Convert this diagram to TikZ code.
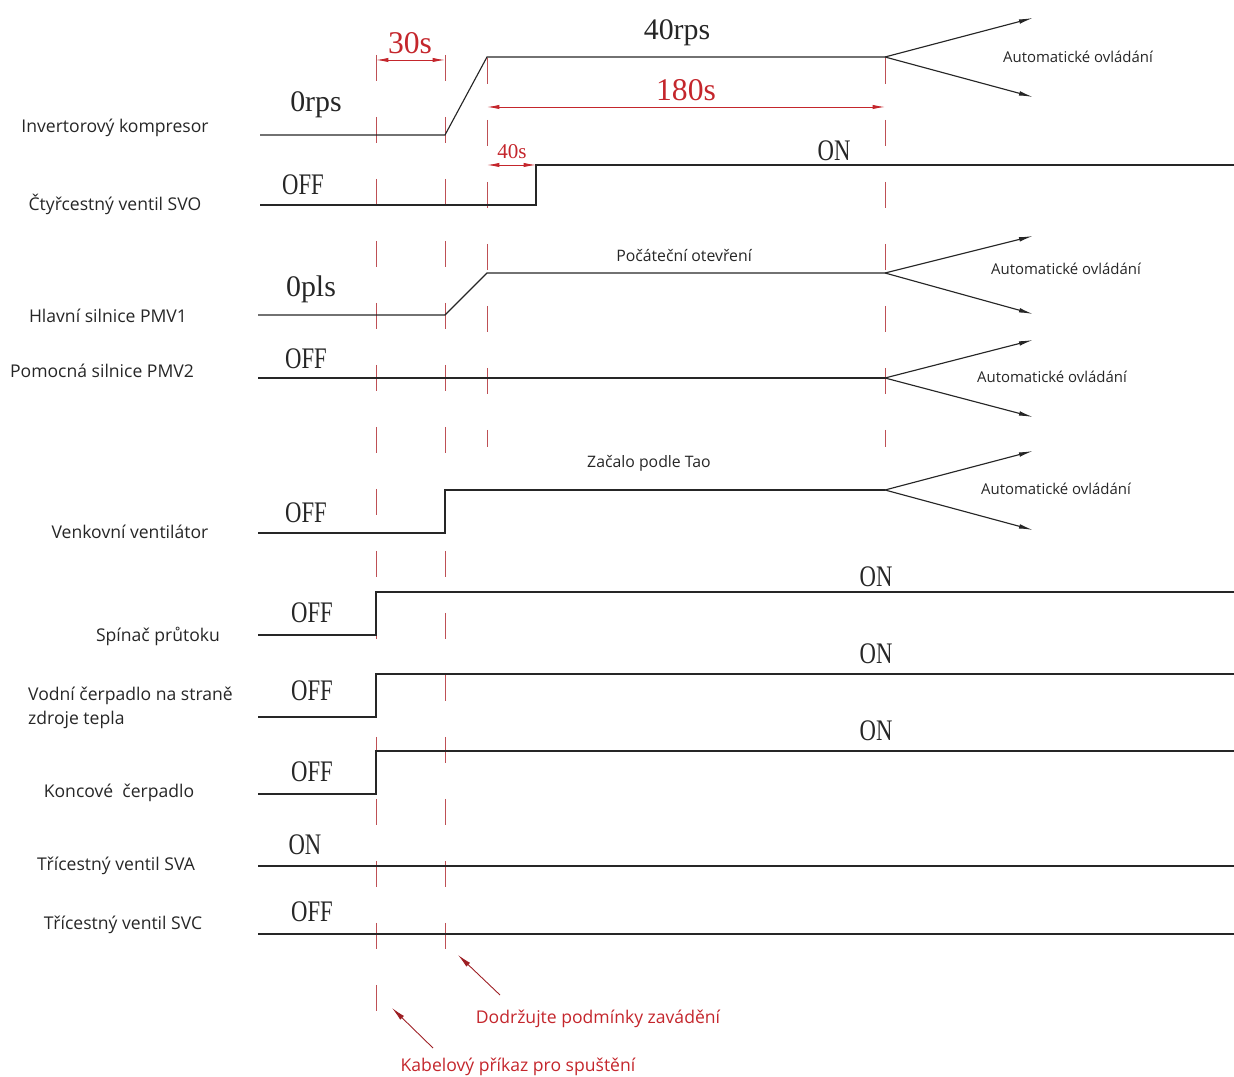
\documentclass[tikz,border=0pt]{standalone}
\usepackage{fontspec}
\setsansfont{Open Sans}
\newfontfamily\cadfont{Liberation Serif}
\newfontfamily\cadcaps[FakeStretch=0.76]{Liberation Serif}
\usetikzlibrary{arrows.meta}
\definecolor{dimred}{RGB}{196,38,44}
\definecolor{guidered}{RGB}{190,80,85}

\begin{document}
\begin{tikzpicture}[x=0.02cm, y=-0.02cm,
	sig/.style={draw=black!85, line width=0.65pt},
	guide/.style={draw=guidered, line width=0.5pt, dash pattern=on 0.52cm off 0.72cm},
	dim/.style={draw=dimred, line width=0.5pt, {Latex[length=7pt,width=2.4pt]}-{Latex[length=7pt,width=2.4pt]}},
	fan/.style={sig, -{Latex[length=8pt,width=2.6pt]}},
	lbl/.style={font=\sffamily\fontsize{10}{13.6}\selectfont, text=black!85},
	hint/.style={font=\sffamily\fontsize{9}{11}\selectfont, text=black!85},
	autotxt/.style={font=\sffamily\fontsize{8.5}{10}\selectfont, text=black!85},
	val/.style={font=\cadfont\fontsize{17}{17}\selectfont, text=black!85},
	state/.style={font=\cadcaps\fontsize{17}{17}\selectfont, text=black!85},
	dimtxt/.style={font=\cadfont\fontsize{18}{18}\selectfont, text=dimred},
	note/.style={font=\sffamily\fontsize{10}{12}\selectfont, text=dimred},
	pointer/.style={draw=dimred!80!black, line width=0.5pt, -{Latex[length=8pt,width=3pt]}}]

	\useasboundingbox (0,0) rectangle (1234,1077);

	\draw[guide] (376,55) -- (376,1030);
	\draw[guide] (445,55) -- (445,970);
	\draw[guide] (487,58) -- (487,447);
	\draw[guide] (885,58) -- (885,447);

	\node (lkmp) [lbl] at (115,128) {Invertorový kompresor};
	\node (lsvo) [lbl] at (115,204) {Čtyřcestný ventil SVO};
	\node (lpmv1) [lbl] at (108,316) {Hlavní silnice PMV1};
	\node (lpmv2) [lbl] at (102,371) {Pomocná silnice PMV2};
	\node (lfan) [lbl] at (130,532) {Venkovní ventilátor};
	\node (lflow) [lbl] at (158,636) {Spínač průtoku};
	\node (lpump) [lbl, anchor=west, align=left] at (22,708) {Vodní čerpadlo na straně\\zdroje tepla};
	\node (lend) [lbl] at (119,793) {Koncové~ čerpadlo};
	\node (lsva) [lbl] at (116,866) {Třícestný ventil SVA};
	\node (lsvc) [lbl] at (123,925) {Třícestný ventil SVC};

	\coordinate (kmp1) at (885,57);
	\coordinate (kmpup) at (1033,18);
	\coordinate (kmpdn) at (1033,97);
	\draw[sig] (260,135) -- (445,135) -- (487,57) -- (kmp1);
	\path (kmp1) edge[fan] (kmpup) edge[fan] (kmpdn);
	\node (v0rps) [val] at (316,105) {0rps};
	\node (v40rps) [val] at (677,33) {40rps};
	\node (akmp) [autotxt] at (1078,57) {Automatické ovládání};

	\draw[dim] (376,60) -- (445,60);
	\node (d30) [dimtxt] at (410,43) {30s};
	\draw[dim] (487,107) -- (885,107);
	\node (d180) [dimtxt] at (686,90) {180s};

	\draw[sig] (260,205) -- (536,205) -- (536,165) -- (1234,165);
	\draw[dim] (487,165) -- (536,165);
	\node (d40) [font=\cadfont\fontsize{12}{12}\selectfont, text=dimred] at (512,152) {40s};
	\node (vsvo0) [state] at (303,185) {OFF};
	\node (vsvo1) [state] at (834,151) {ON};

	\coordinate (pmv1) at (885,273);
	\coordinate (pmv1up) at (1033,236);
	\coordinate (pmv1dn) at (1033,314);
	\draw[sig] (258,315) -- (445,315) -- (487,273) -- (pmv1);
	\path (pmv1) edge[fan] (pmv1up) edge[fan] (pmv1dn);
	\node (v0pls) [val] at (311,289) {0pls};
	\node (hopen) [hint] at (684,256) {Počáteční otevření};
	\node (apmv1) [autotxt] at (1066,269) {Automatické ovládání};

	\coordinate (pmv2) at (885,378);
	\coordinate (pmv2up) at (1033,340);
	\coordinate (pmv2dn) at (1033,417);
	\draw[sig] (258,378) -- (pmv2);
	\path (pmv2) edge[fan] (pmv2up) edge[fan] (pmv2dn);
	\node (vpmv2) [state] at (306,359) {OFF};
	\node (apmv2) [autotxt] at (1052,377) {Automatické ovládání};

	\coordinate (fan1) at (885,490);
	\coordinate (fanup) at (1033,451);
	\coordinate (fandn) at (1033,530);
	\draw[sig] (258,533) -- (445,533) -- (445,490) -- (fan1);
	\path (fan1) edge[fan] (fanup) edge[fan] (fandn);
	\node (vfan) [state] at (306,513) {OFF};
	\node (htao) [hint] at (649,463) {Začalo podle Tao};
	\node (afan) [autotxt] at (1056,489) {Automatické ovládání};

	\draw[sig] (258,635) -- (376,635) -- (376,592) -- (1234,592);
	\node (vflow0) [state] at (312,613) {OFF};
	\node (vflow1) [state] at (876,577) {ON};

	\draw[sig] (258,717) -- (376,717) -- (376,674) -- (1234,674);
	\node (vpump0) [state] at (312,691) {OFF};
	\node (vpump1) [state] at (876,654) {ON};

	\draw[sig] (258,794) -- (376,794) -- (376,751) -- (1234,751);
	\node (vend0) [state] at (312,772) {OFF};
	\node (vend1) [state] at (876,731) {ON};

	\draw[sig] (258,866) -- (1234,866);
	\node (vsva) [state] at (305,845) {ON};

	\draw[sig] (258,934) -- (1234,934);
	\node (vsvc) [state] at (312,912) {OFF};

	\node (nload) [note] at (598,1019) {Dodržujte podmínky zavádění};
	\coordinate (nloadtail) at (500,995);
	\coordinate (nloadtip) at (458,955);
	\node (nstart) [note] at (518,1067) {Kabelový příkaz pro spuštění};
	\coordinate (nstarttail) at (433,1048);
	\coordinate (nstarttip) at (392,1008);
	\path
	(nloadtail) edge[pointer] (nloadtip)
	(nstarttail) edge[pointer] (nstarttip);

\end{tikzpicture}
\end{document}
